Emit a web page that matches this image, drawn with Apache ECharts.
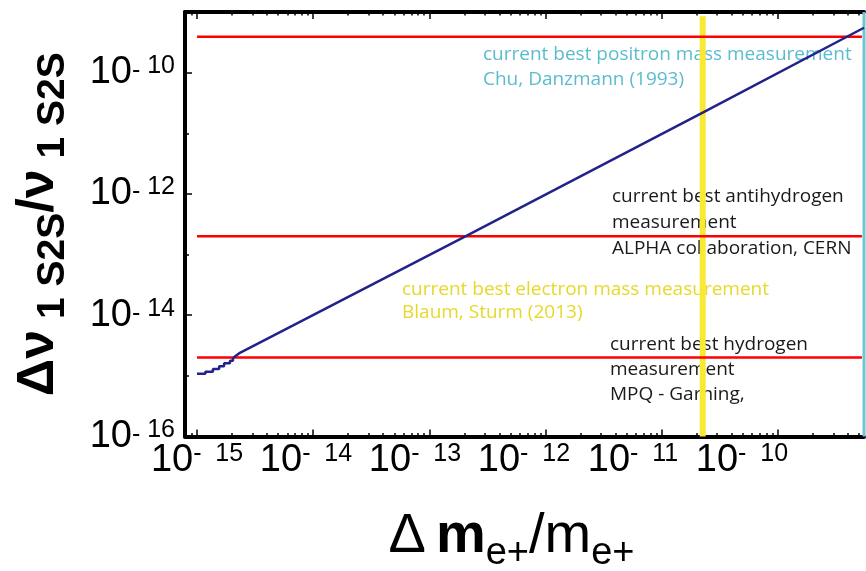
<!DOCTYPE html>
<html>
<head>
<meta charset="utf-8">
<script src="https://cdn.jsdelivr.net/npm/echarts@6/dist/echarts.min.js"></script>
<style>
html, body { margin: 0; padding: 0; background: #fff; }
#chart { width: 866px; height: 571px; }
</style>
</head>
<body>
<div id="chart"></div>
<script>
// axis ranges
var xMin = 7.88e-16, xMax = 5.5e-10;
var yMin = 1e-16, yMax = 1e-9;

// low end of the curve: the little staircase
var stairX = [1.00e-15, 1.18e-15, 1.37e-15, 1.55e-15, 1.71e-15, 1.92e-15, 2.04e-15];
var stairY = [1.08e-15, 1.17e-15, 1.30e-15, 1.44e-15, 1.61e-15, 1.78e-15, 1.97e-15];
// the straight part
var trendX = [2.04e-15, 2.34e-15, 2.04e-13, 2.25e-11, 5.5e-10];
var trendY = [1.97e-15, 2.40e-15, 2.0e-13, 2.2e-11, 5.5e-10];

// red levels: positron, antihydrogen, hydrogen
var redLevels = [3.9e-10, 2.0e-13, 2.0e-15];
var redFrom = 1e-15, redTo = 5.28e-10;

// vertical marks
var electronX = 2.25e-11, electronTop = 8.5e-10;
var positronX = 5.5e-10;

// ticks
var xMajor = [1e-15, 1e-14, 1e-13, 1e-12, 1e-11, 1e-10];
var xLabelsOdd = [1e-15, 1e-13, 1e-11];
var xLabelsEven = [1e-14, 1e-12, 1e-10];
var yMajor = [1e-16, 1e-14, 1e-12, 1e-10];
var yMinor = [1e-15, 1e-13, 1e-11];
var xMinor = [];
for (var e = -16; e <= -10; e++) {
  for (var k = 2; k <= 9; k++) {
    var v = k * Math.pow(10, e);
    if (v > xMin && v < xMax) xMinor.push(v);
  }
}

var notes = [
  { left: 483, top: 42, lh: 25, color: '#5bbccf', text: 'current best positron mass measurement\nChu, Danzmann (1993)' },
  { left: 612, top: 184, lh: 26, color: '#1a1a1a', text: 'current best antihydrogen\nmeasurement\nALPHA collaboration, CERN' },
  { left: 402, top: 278, lh: 23, color: '#e6d92a', text: 'current best electron mass measurement\nBlaum, Sturm (2013)' },
  { left: 610, top: 332, lh: 25, color: '#1a1a1a', text: 'current best hydrogen\nmeasurement\nMPQ - Garning,' }
];

function expOf(v) { return Math.round(Math.log10(v)); }

var font = 'Liberation Sans';
var xRich = {
  b: { fontSize: 38, fontFamily: font, color: '#000', lineHeight: 38, padding: [6, 0, 0, 0], verticalAlign: 'bottom' },
  h: { fontSize: 25, fontFamily: font, color: '#000', lineHeight: 25, verticalAlign: 'top' },
  s: { fontSize: 25, fontFamily: font, color: '#000', lineHeight: 25, verticalAlign: 'top' }
};
// labels drift left of their ticks in the original, a bit more each decade
for (var i = 0; i <= 5; i++) {
  xRich['g' + i] = { width: i * 14.4, fontSize: 10 };
}
var yRich = {
  b: { fontSize: 38, fontFamily: font, color: '#000', lineHeight: 38 },
  m: { fontSize: 25, fontFamily: font, color: '#000', lineHeight: 26, padding: [5, 0, 0, 0], verticalAlign: 'top' },
  s: { fontSize: 25, fontFamily: font, color: '#000', lineHeight: 25, verticalAlign: 'top' }
};

function xLabel(values) {
  return {
    show: true, customValues: values, margin: 5, rich: xRich, interval: 0, hideOverlap: false,
    showMinLabel: true, showMaxLabel: true,
    formatter: function (v) {
      var e = expOf(v);
      return '{b|10}{h|-}{s|  ' + (-e) + '}{g' + (e + 15) + '| }';
    }
  };
}

var chart = echarts.init(document.getElementById('chart'));

function hline(v) {
  return {
    type: 'line', data: [[redFrom, v], [redTo, v]], symbol: 'none',
    lineStyle: { color: '#ff0000', width: 2.5 }, silent: true, z: 3
  };
}

function tickAxis(kind, pos, values, len, withLine, label) {
  return {
    type: 'log', min: kind === 'x' ? xMin : yMin, max: kind === 'x' ? xMax : yMax, position: pos,
    axisLine: { show: withLine, lineStyle: { color: '#000', width: 4 } },
    axisTick: { show: true, inside: true, length: len, customValues: values, lineStyle: { color: '#000', width: 1.5 } },
    axisLabel: label || { show: false }, splitLine: { show: false }
  };
}

var series = [
  {
    type: 'line', data: [[electronX, yMin], [electronX, electronTop]], symbol: 'none',
    lineStyle: { color: '#f9e934', width: 6 }, z: 1
  },
  {
    type: 'line', data: [[positronX, yMin], [positronX, yMax]], symbol: 'none', clip: false,
    lineStyle: { color: '#6cc5d6', width: 3 }, z: 2
  }
];
redLevels.forEach(function (v) { series.push(hline(v)); });
series.push({
  type: 'line', step: 'end', symbol: 'none',
  data: stairX.map(function (x, i) { return [x, stairY[i]]; }),
  lineStyle: { color: '#22228a', width: 2.5 }, z: 4
});
series.push({
  type: 'line', symbol: 'none',
  data: trendX.map(function (x, i) { return [x, trendY[i]]; }),
  lineStyle: { color: '#22228a', width: 2.5 }, z: 4
});

var option = {
  animation: false,
  backgroundColor: '#fff',
  grid: { left: 185, top: 12, right: 2, bottom: 134.5, containLabel: false, outerBoundsMode: 'none' },
  xAxis: [
    {
      type: 'log', min: xMin, max: xMax, position: 'bottom',
      axisLine: { show: true, lineStyle: { color: '#000', width: 4 } },
      axisTick: { show: true, inside: true, length: 7, customValues: xMajor, lineStyle: { color: '#000', width: 1.5 } },
      axisLabel: xLabel(xLabelsEven),
      splitLine: { show: false },
      name: '{r|Δ}{mb|m}{sub|e+}{r|/m}{sub|e+}',
      nameLocation: 'middle', nameGap: 72,
      nameTextStyle: {
        padding: [0, 26, 0, 0],
        rich: {
          r: { fontSize: 56, fontFamily: font, color: '#000', lineHeight: 56, verticalAlign: 'top' },
          mb: { fontSize: 56, fontFamily: font, fontWeight: 'bold', color: '#000', lineHeight: 56, padding: [0, 0, 0, 10], verticalAlign: 'top' },
          sub: { fontSize: 38, fontFamily: font, color: '#000', lineHeight: 38, padding: [26, 0, 0, 0], verticalAlign: 'top' }
        }
      }
    },
    tickAxis('x', 'bottom', xMinor, 3.5, false, xLabel(xLabelsOdd)),
    tickAxis('x', 'top', xMajor, 7, true),
    tickAxis('x', 'top', xMinor, 3.5, false)
  ],
  yAxis: [
    {
      type: 'log', min: yMin, max: yMax, position: 'left',
      axisLine: { show: true, lineStyle: { color: '#000', width: 4 } },
      axisTick: { show: true, inside: true, length: 7, customValues: yMajor, lineStyle: { color: '#000', width: 1.5 } },
      axisLabel: {
        show: true, customValues: yMajor, margin: 10, rich: yRich, interval: 0, hideOverlap: false,
        showMinLabel: true, showMaxLabel: true,
        formatter: function (v) {
          return '{b|10}{m|-}{s| ' + (-expOf(v)) + '}';
        }
      },
      splitLine: { show: false },
      name: '{d|Δν}{sub| 1 S2S}{d|/ν}{sub| 1 S2S}',
      nameLocation: 'middle', nameGap: 120, nameRotate: 90,
      nameTextStyle: {
        rich: {
          d: { fontSize: 52, fontFamily: font, fontWeight: 'bold', color: '#000', lineHeight: 52, verticalAlign: 'top' },
          sub: { fontSize: 39, fontFamily: font, fontWeight: 'bold', color: '#000', lineHeight: 39, padding: [21, 0, 0, 0], verticalAlign: 'top' }
        }
      }
    },
    tickAxis('y', 'left', yMinor, 4, false)
  ],
  series: series,
  graphic: notes.map(function (n) {
    return {
      type: 'text', left: n.left, top: n.top, z: 0,
      style: { text: n.text, fill: n.color, font: '19px "Open Sans"', lineHeight: n.lh }
    };
  })
};

chart.setOption(option);
</script>
</body>
</html>
